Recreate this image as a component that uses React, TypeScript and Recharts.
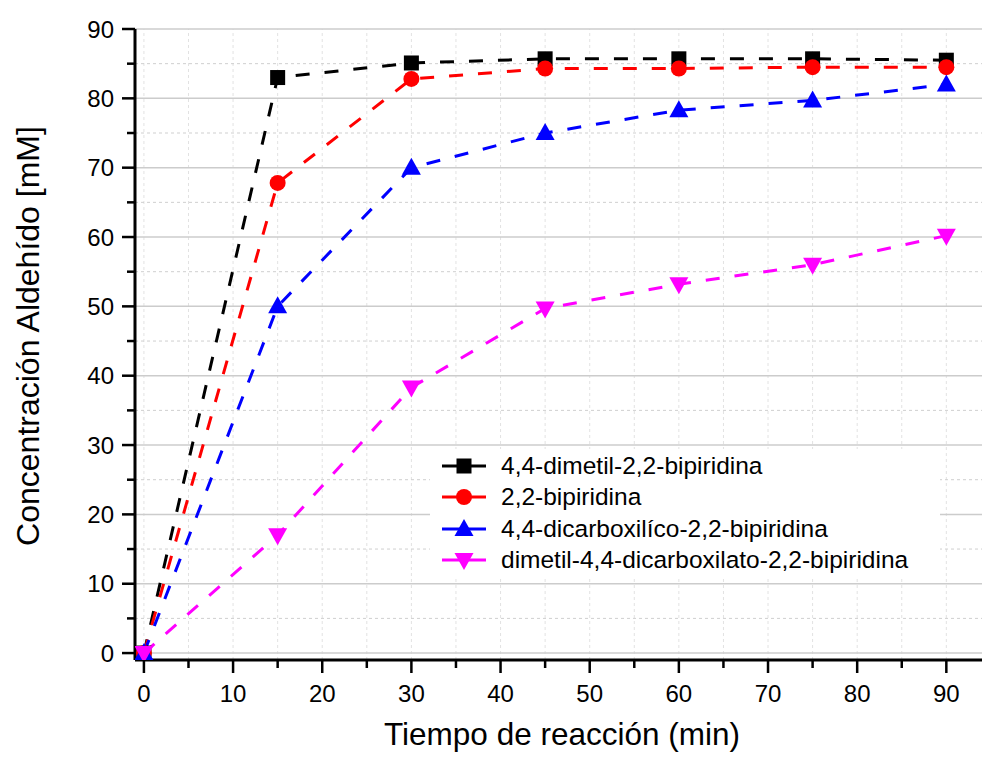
import { LineChart, Line, XAxis, YAxis, ReferenceLine } from 'recharts';

const time = [0, 15, 30, 45, 60, 75, 90];
const dimetilBipiridina = [0, 83, 85.1, 85.7, 85.7, 85.7, 85.5];
const bipiridina = [0, 67.8, 82.8, 84.3, 84.3, 84.5, 84.5];
const dicarboxilico = [0, 50, 70, 75, 78.3, 79.7, 82];
const dicarboxilato = [0, 17, 38.3, 49.7, 53.2, 56, 60.2];

const xTicks = [0, 5, 10, 15, 20, 25, 30, 35, 40, 45, 50, 55, 60, 65, 70, 75, 80, 85, 90];
const yTicks = [0, 5, 10, 15, 20, 25, 30, 35, 40, 45, 50, 55, 60, 65, 70, 75, 80, 85, 90];
const yMajor = [0, 10, 20, 30, 40, 50, 60, 70, 80, 90];
const yMinor = [5, 15, 25, 35, 45, 55, 65, 75, 85];

const series = [
  { key: 'a', name: '4,4-dimetil-2,2-bipiridina', color: '#000000', shape: 'square', values: dimetilBipiridina },
  { key: 'b', name: '2,2-bipiridina', color: '#ff0000', shape: 'circle', values: bipiridina },
  { key: 'c', name: '4,4-dicarboxilíco-2,2-bipiridina', color: '#0000ff', shape: 'up', values: dicarboxilico },
  { key: 'd', name: 'dimetil-4,4-dicarboxilato-2,2-bipiridina', color: '#ff00ff', shape: 'down', values: dicarboxilato },
];

const data = time.map((t, i) => {
  const row: Record<string, number> = { t };
  series.forEach((s) => (row[s.key] = s.values[i]));
  return row;
});

const font = '"Liberation Sans", Arial, sans-serif';

function Marker({ cx, cy, shape, color }: { cx: number; cy: number; shape: string; color: string }) {
  if (shape === 'square') return <rect x={cx - 7.5} y={cy - 7.5} width={15} height={15} fill={color} />;
  if (shape === 'circle') return <circle cx={cx} cy={cy} r={8} fill={color} />;
  if (shape === 'up')
    return <polygon points={`${cx},${cy - 10} ${cx + 9.5},${cy + 7} ${cx - 9.5},${cy + 7}`} fill={color} />;
  return <polygon points={`${cx},${cy + 10} ${cx + 9.5},${cy - 7} ${cx - 9.5},${cy - 7}`} fill={color} />;
}

function XTick({ x, y, payload }: any) {
  const major = payload.value % 10 === 0;
  return (
    <g>
      <line x1={x} x2={x} y1={y} y2={y + (major ? 13 : 8)} stroke="#000" strokeWidth={2.5} />
      {major && (
        <text x={x} y={y + 42} textAnchor="middle" fontSize={24} fontFamily={font} fill="#000">
          {payload.value}
        </text>
      )}
    </g>
  );
}

function YTick({ x, y, payload }: any) {
  const major = payload.value % 10 === 0;
  return (
    <g>
      <line x1={x} x2={x - (major ? 13 : 8)} y1={y} y2={y} stroke="#000" strokeWidth={2.5} />
      {major && (
        <text x={x - 21} y={y + 8.5} textAnchor="end" fontSize={24} fontFamily={font} fill="#000">
          {payload.value}
        </text>
      )}
    </g>
  );
}

function LegendBox() {
  return (
    <div
      style={{
        position: 'absolute',
        left: 430,
        top: 449,
        width: 510,
        background: '#fff',
        padding: '1px 0 2px 10px',
        boxSizing: 'border-box',
      }}
    >
      {series.map((s) => (
        <div key={s.key} style={{ display: 'flex', alignItems: 'center', height: 31.5 }}>
          <svg width={48} height={24}>
            <line x1={2} x2={46} y1={12} y2={12} stroke={s.color} strokeWidth={3} />
            <Marker cx={24} cy={12} shape={s.shape} color={s.color} />
          </svg>
          <span style={{ marginLeft: 13, fontSize: 24.5, fontFamily: font, color: '#000', whiteSpace: 'nowrap' }}>
            {s.name}
          </span>
        </div>
      ))}
    </div>
  );
}

export default function App() {
  return (
    <div style={{ position: 'absolute', left: 0, top: 0, width: 982, height: 758, background: '#fff' }}>
      <LineChart width={982} height={758} data={data} margin={{ top: 29, right: 0, bottom: 0, left: 0 }}>
        <XAxis
          dataKey="t"
          type="number"
          domain={[-1, 94]}
          ticks={xTicks}
          interval={0}
          allowDataOverflow
          height={98}
          tickSize={0}
          tickMargin={0}
          tickLine={false}
          tick={<XTick />}
          axisLine={{ stroke: '#000', strokeWidth: 3 }}
          label={{
            content: () => (
              <text x={562} y={745} textAnchor="middle" fontSize={31.5} fontFamily={font} fill="#000">
                Tiempo de reacción (min)
              </text>
            ),
          }}
        />
        <YAxis
          type="number"
          domain={[-1, 90]}
          ticks={yTicks}
          interval={0}
          allowDataOverflow
          width={135}
          tickSize={0}
          tickMargin={0}
          tickLine={false}
          tick={<YTick />}
          axisLine={{ stroke: '#000', strokeWidth: 3 }}
          label={{
            content: () => (
              <text
                x={39}
                y={336}
                transform="rotate(-90 39 336)"
                textAnchor="middle"
                fontSize={32}
                fontFamily={font}
                fill="#000"
              >
                Concentración Aldehído [mM]
              </text>
            ),
          }}
        />
        {xTicks.map((v) => (
          <ReferenceLine key={'vx' + v} x={v} stroke="#e2e2e2" strokeWidth={1} strokeDasharray="3 3" />
        ))}
        {yMinor.map((v) => (
          <ReferenceLine key={'hm' + v} y={v} stroke="#cfcfcf" strokeWidth={1} strokeDasharray="3 3" />
        ))}
        {yMajor.map((v) => (
          <ReferenceLine key={'hM' + v} y={v} stroke="#cccccc" strokeWidth={1.5} />
        ))}
        {series.map((s) => (
          <Line
            key={s.key}
            type="linear"
            dataKey={s.key}
            name={s.name}
            stroke={s.color}
            strokeWidth={3}
            strokeDasharray="14 15"
            isAnimationActive={false}
            activeDot={false}
            dot={(p: any) => <Marker key={s.key + p.index} cx={p.cx} cy={p.cy} shape={s.shape} color={s.color} />}
          />
        ))}
      </LineChart>
      <LegendBox />
    </div>
  );
}
